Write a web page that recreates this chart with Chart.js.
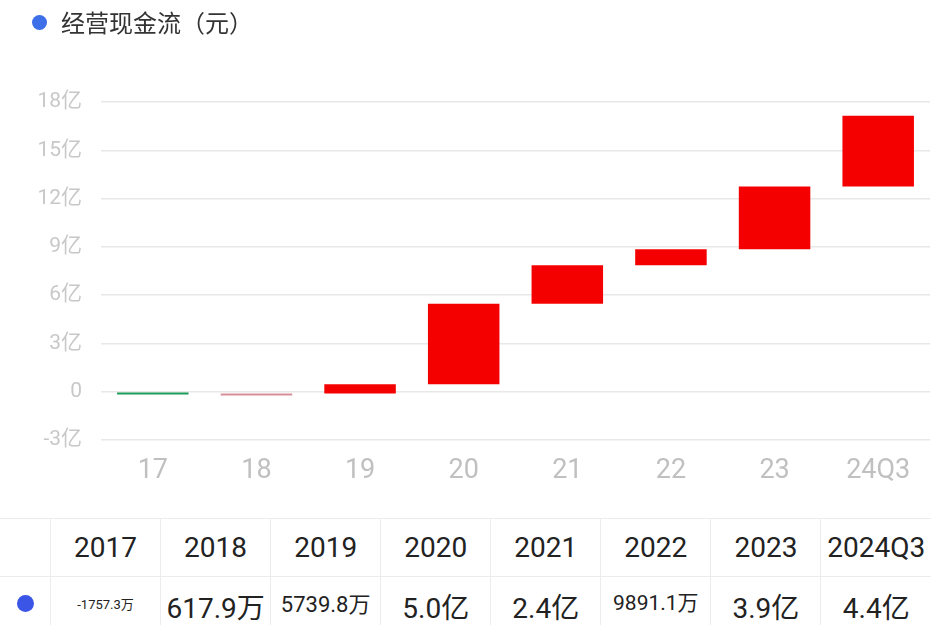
<!DOCTYPE html>
<html>
<head>
<meta charset="utf-8">
<script src="https://cdn.jsdelivr.net/npm/chart.js@4.4.1/dist/chart.umd.min.js"></script>
<style>
  body { margin: 0; width: 931px; height: 625px; overflow: hidden; background: #fff; font-family: Roboto, "Noto Sans CJK SC", sans-serif; }
  #legend { position: absolute; left: 32px; top: 4px; font-size: 24px; color: #333; font-family: "Noto Sans CJK SC", sans-serif; }
  #legend .dot { display: inline-block; width: 15px; height: 15px; border-radius: 50%; background: #3d6fe8; margin-right: 14px; vertical-align: 2px; }
  #wrap { position: absolute; left: 0; top: 0; }
  table { position: absolute; left: 0; top: 518px; border-collapse: collapse; table-layout: fixed; width: 931px; }
  td { border-top: 1.5px solid #ececec; border-left: 1.5px solid #ececec; text-align: center; color: #222; padding: 0; white-space: nowrap; }
  tr.head td { height: 57px; font-size: 28px; }
  tr.vals td { height: 58px; font-size: 28px; vertical-align: top; padding-top: 9px; }
  td.first { border-left: none; width: 50px; }
  .bdot { display: inline-block; width: 17px; height: 17px; border-radius: 50%; background: #3b55e6; }
</style>
</head>
<body>
<div id="wrap"><canvas id="c" width="931" height="500"></canvas></div>
<div id="legend"><span class="dot"></span>经营现金流（元）</div>
<table id="tbl"></table>
<script>
// categories and values (亿元)
const axisLabels = ['17', '18', '19', '20', '21', '22', '23', '24Q3'];
const years = ['2017', '2018', '2019', '2020', '2021', '2022', '2023', '2024Q3'];
const changes = [-0.17573, 0.06179, 0.57398, 5.0, 2.4, 0.98911, 3.9, 4.4];
const valueTexts = ['-1757.3万', '617.9万', '5739.8万', '5.0亿', '2.4亿', '9891.1万', '3.9亿', '4.4亿'];
const valueSizes = [13, 28, 22, 28, 28, 21, 28, 28];
const barColors = ['#1f9b5b', '#d98f9a', '#f40000', '#f40000', '#f40000', '#f40000', '#f40000', '#f40000'];

// waterfall: each bar floats from previous total to new total
const floating = [];
let total = 0;
changes.forEach(v => {
    floating.push([total, total + v]);
    total += v;
});

new Chart(document.getElementById('c'), {
    type: 'bar',
    data: {
        labels: axisLabels,
        datasets: [{
            data: floating,
            backgroundColor: barColors,
            borderWidth: 0,
            barPercentage: 0.69,
            categoryPercentage: 1,
            minBarLength: 2
        }]
    },
    options: {
        responsive: false,
        animation: false,
        layout: { padding: { top: 102, right: 1, left: 0, bottom: 0 } },
        plugins: { legend: { display: false }, tooltip: { enabled: false } },
        scales: {
            x: {
                grid: { display: false, drawTicks: false },
                border: { display: false },
                ticks: { color: '#c0c0c0', padding: 15, font: { size: 27, family: 'Roboto' } },
                afterFit: s => { s.height = 60; }
            },
            y: {
                min: -3,
                max: 18,
                grid: { color: '#e8e8e8', lineWidth: 1.5, drawTicks: false },
                border: { display: false },
                ticks: {
                    stepSize: 3,
                    padding: 19,
                    color: '#c8c8c8',
                    font: { size: 21, family: 'Roboto, "Noto Sans CJK SC"' },
                    callback: v => v === 0 ? '0' : v + '亿'
                },
                afterFit: s => { s.width = 101; }
            }
        }
    }
});

// data table below the chart
const tbl = document.getElementById('tbl');
let head = '<tr class="head"><td class="first"></td>';
years.forEach(y => { head += '<td>' + y + '</td>'; });
head += '</tr>';
let row = '<tr class="vals"><td class="first"><span class="bdot"></span></td>';
valueTexts.forEach((t, i) => {
    const lh = valueSizes[i] < 20 ? 'line-height:38px' : '';
    row += '<td style="font-size:' + valueSizes[i] + 'px;' + lh + '">' + t + '</td>';
});
row += '</tr>';
tbl.innerHTML = head + row;
</script>
</body>
</html>
